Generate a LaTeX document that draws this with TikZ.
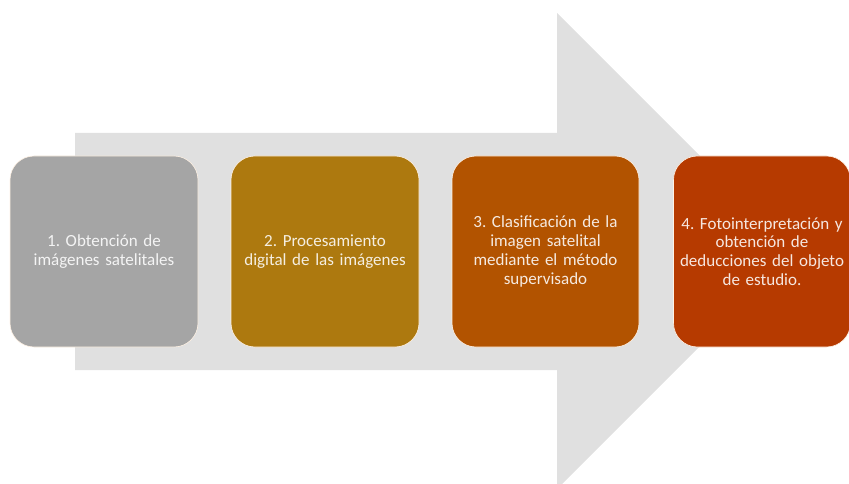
\documentclass[tikz,border=0pt]{standalone}
\usepackage{fontspec}
\setmainfont{Carlito}
\frenchspacing
\definecolor{arrowgray}{HTML}{E0E0E0}
\definecolor{cA}{HTML}{A5A5A5}
\definecolor{cB}{HTML}{AD790F}
\definecolor{cC}{HTML}{B25300}
\definecolor{cD}{HTML}{B63A00}
\begin{document}
\begin{tikzpicture}[x=1pt,y=-1pt,
  stepbox/.style={draw=white!90!orange, line width=0.6pt, rounded corners=24pt,
    minimum height=191pt, text width=#1, align=center, inner sep=0pt,
    text=white, text opacity=0.88, font=\fontsize{17}{18.8}\selectfont},
  stepbox/.default=176pt]
\useasboundingbox (0,0) rectangle (849,484);
\fill[arrowgray] (75,133) -- (557,133) -- (557,13) -- (795,251) -- (557,489) -- (557,370) -- (75,370) -- cycle;
\node[stepbox, fill=cA, minimum width=188pt] (s1) at (104,251.5) {1. Obtención de\\imágenes satelitales};
\node[stepbox, fill=cB, minimum width=188pt] (s2) at (325,251.5) {2. Procesamiento\\digital de las imágenes};
\node[stepbox, fill=cC, minimum width=187pt] (s3) at (545.5,251.5) {3. Clasificación de la\\imagen satelital\\mediante el método\\supervisado};
\node[stepbox=176pt, fill=cD, minimum width=177pt] (s4) at (762,251.5) {4. Fotointerpretación y\\obtención de\\deducciones del objeto\\de estudio.};
\end{tikzpicture}
\end{document}
